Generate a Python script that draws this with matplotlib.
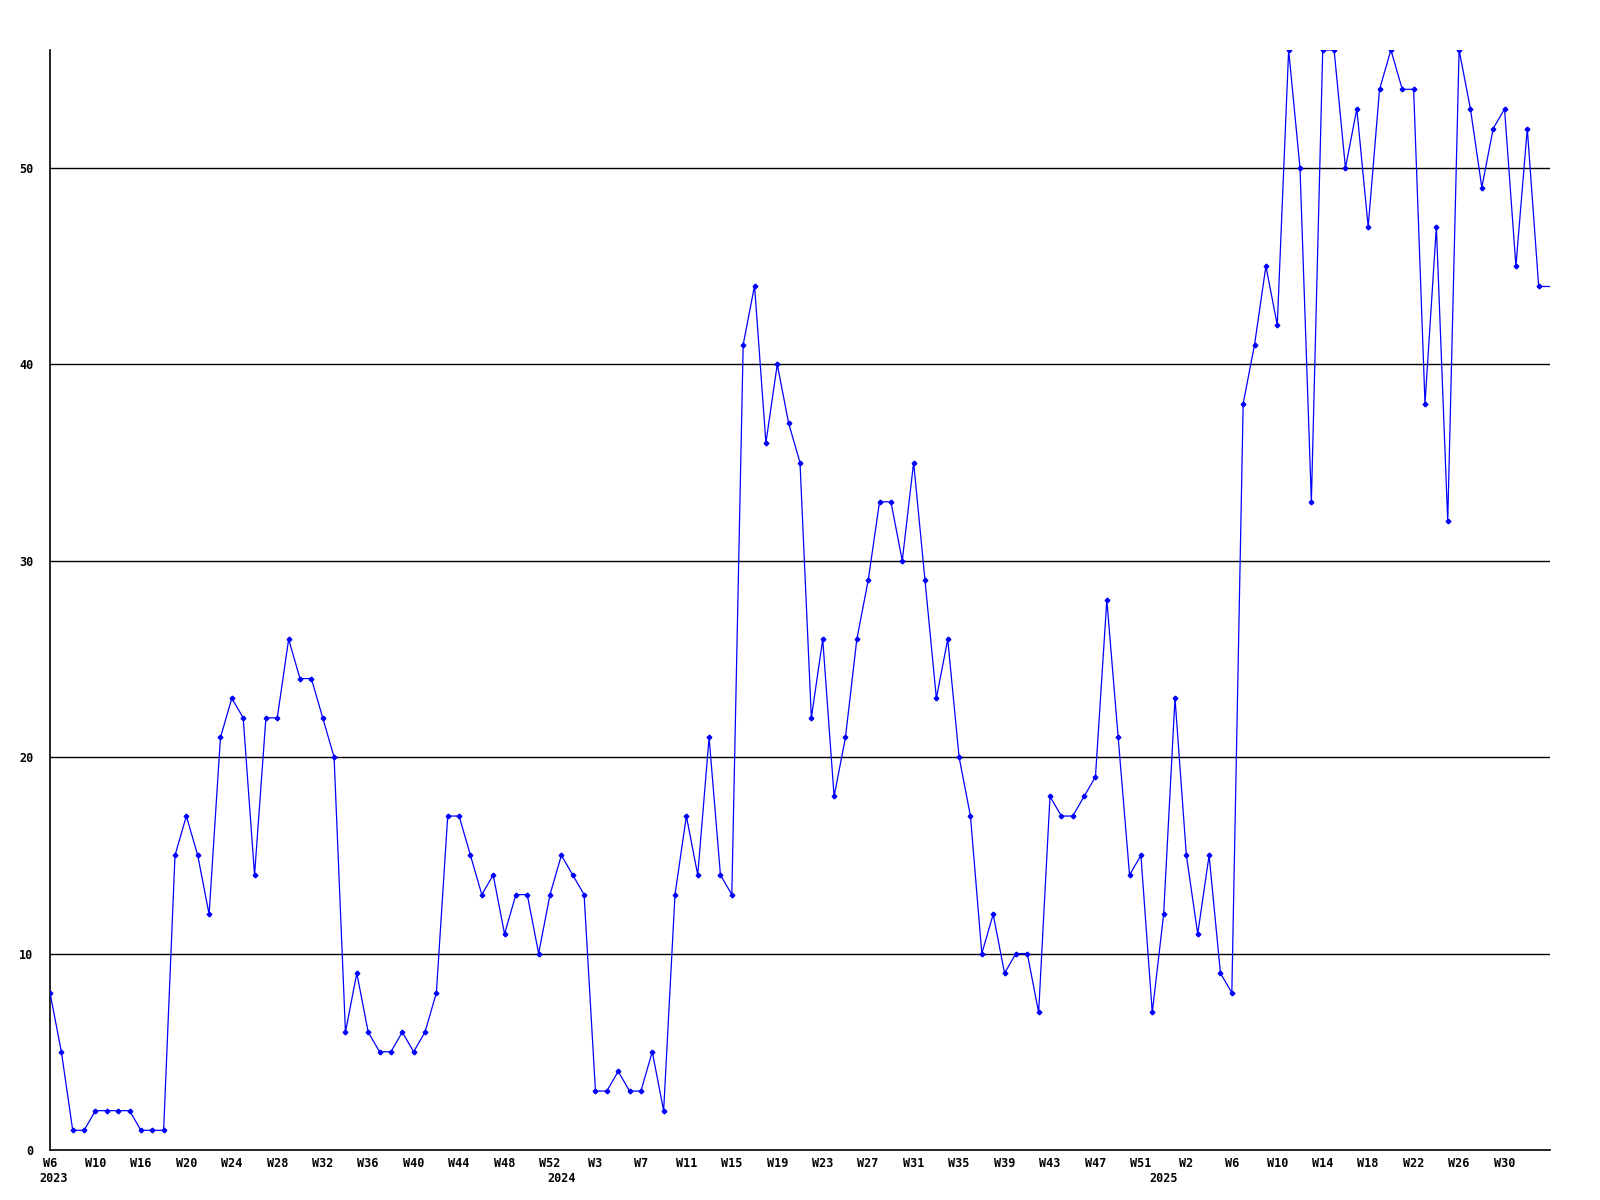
import numpy as np
import matplotlib
matplotlib.use('Agg')
import matplotlib.pyplot as plt

# weekly counts, 2023 W6 .. 2025 W33
values = [8, 5, 1, 1, 2, 2, 2, 2, 1, 1, 1, 15, 17, 15, 12, 21, 23, 22, 14, 22,
          22, 26, 24, 24, 22, 20, 6, 9, 6, 5, 5, 6, 5, 6, 8, 17, 17, 15, 13, 14,
          11, 13, 13, 10, 13, 15, 14, 13, 3, 3, 4, 3, 3, 5, 2, 13, 17, 14, 21, 14,
          13, 41, 44, 36, 40, 37, 35, 22, 26, 18, 21, 26, 29, 33, 33, 30, 35, 29, 23, 26,
          20, 17, 10, 12, 9, 10, 10, 7, 18, 17, 17, 18, 19, 28, 21, 14, 15, 7, 12, 23,
          15, 11, 15, 9, 8, 38, 41, 45, 42, 56, 50, 33, 56, 56, 50, 53, 47, 54, 56, 54,
          54, 38, 47, 32, 56, 53, 49, 52, 53, 45, 52, 44]

week_labels = ['W6', 'W10', 'W16', 'W20', 'W24', 'W28', 'W32', 'W36', 'W40', 'W44', 'W48', 'W52',
               'W3', 'W7', 'W11', 'W15', 'W19', 'W23', 'W27', 'W31', 'W35', 'W39', 'W43', 'W47', 'W51',
               'W2', 'W6', 'W10', 'W14', 'W18', 'W22', 'W26', 'W30']
years = ['2023', '2024', '2025']
year_start = [0.3, 45, 98]

x = np.arange(len(values))
font = dict(family='DejaVu Sans Mono', weight='bold', size=8.5)

fig = plt.figure(figsize=(16, 12), dpi=100)
ax = fig.add_axes([0.03125, 0.0417, 0.9375, 0.9166])

for v in [10, 20, 30, 40, 50]:
    ax.axhline(v, color='black', lw=1.0, zorder=1)

ax.plot(x, values, color='#0000ff', lw=0.9, marker='P', markersize=3, zorder=3)
# last value carried to the right edge
ax.plot([x[-1], len(values)], [values[-1], values[-1]], color='#0000ff', lw=0.9, zorder=3)

ax.set_xlim(0, len(values))
ax.set_ylim(0, max(values))

ax.set_yticks([0, 10, 20, 30, 40, 50])
ax.set_yticklabels(['0', '10', '20', '30', '40', '50'], fontdict=font)
ax.set_xticks(x[::4])
ax.set_xticklabels(week_labels, fontdict=font)
ax.tick_params(axis='y', length=0, pad=12)
ax.tick_params(axis='x', length=0, pad=5)

for yr, pos in zip(years, year_start):
    ax.annotate(yr, xy=(pos, 0), xycoords=('data', 'axes fraction'),
                xytext=(0, -16), textcoords='offset points',
                ha='center', va='top', **font)

ax.spines['top'].set_visible(False)
ax.spines['right'].set_visible(False)
ax.spines['left'].set_linewidth(1.2)
ax.spines['bottom'].set_linewidth(1.2)

plt.savefig('out.png', dpi=100)
